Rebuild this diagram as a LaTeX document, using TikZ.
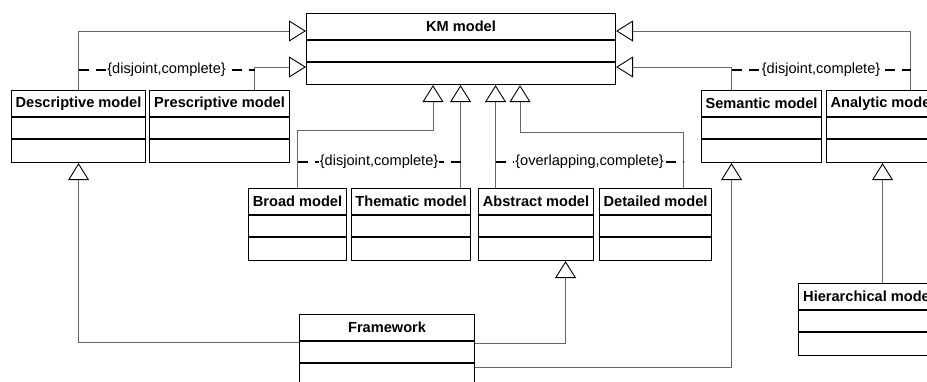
\documentclass[tikz,border=0pt]{standalone}
\usepackage{fontspec}
\setmainfont{Liberation Sans}
\usetikzlibrary{arrows.meta}
\newcommand\umlclass[6]{%
  \node[box,minimum width=#4pt,minimum height=#5pt] (#1) at (#2,#3) {};
  \node[ttl] (#1-t) at ([yshift=-13.5pt]#1.north) {#6};
  \draw[boxline] ([yshift=-27pt]#1.north west) -- ([yshift=-27pt]#1.north east);
  \draw[boxline] ([yshift=-49pt]#1.north west) -- ([yshift=-49pt]#1.north east);
}
\begin{document}
\begin{tikzpicture}[x=1pt,y=-1pt,
  box/.style={draw=black,line width=1.1pt,fill=white,inner sep=0pt,anchor=north west},
  boxline/.style={draw=black,line width=1.1pt},
  ttl/.style={font=\bfseries\fontsize{14.6}{17}\selectfont,inner sep=0pt,anchor=center},
  gen/.style={draw=black!60,line width=0.9pt,-{Triangle[open,length=17pt,width=21pt,line width=0.9pt,color=black]}},
  cons/.style={draw=black,line width=2pt,dash pattern=on 10pt off 7pt},
  lbl/.style={fill=white,inner sep=1pt,font=\fontsize{14.6}{17}\selectfont}]
\useasboundingbox (0,0) rectangle (927,381);
\clip (0,0) rectangle (927,381);
\fill[white] (0,0) rectangle (927,381);
% classes
\umlclass{km}{306}{13}{309}{71}{KM model}
\umlclass{desc}{11}{90}{134}{72}{Descriptive model}
\umlclass{pres}{149}{90}{140}{72}{Prescriptive model}
\umlclass{sem}{701}{90}{120}{72}{Semantic model}
\umlclass{ana}{826}{90}{112}{72}{Analytic model}
\umlclass{broad}{248}{188}{98}{72}{Broad model}
\umlclass{them}{351}{188}{119}{72}{Thematic model}
\umlclass{abs}{478}{188}{115}{72}{Abstract model}
\umlclass{det}{599}{188}{112}{72}{Detailed model}
\umlclass{fw}{299}{314}{175}{72}{Framework}
\umlclass{hier}{798}{283}{140}{72}{Hierarchical model}
% generalizations to KM model
\draw[gen] (desc.north) |- ([yshift=-18pt]km.north west);
\draw[gen] ([xshift=35pt]pres.north) |- ([yshift=-54pt]km.north west);
\draw[gen] ([xshift=-30pt]sem.north) |- ([yshift=-54pt]km.north east);
\draw[gen] ([xshift=28pt]ana.north) |- ([yshift=-18pt]km.north east);
\draw[gen] (broad.north) -- ++(0,-58) -| ([xshift=127pt]km.south west);
\draw[gen] ([xshift=49.5pt]them.north) -- ([xshift=49.5pt]them.north |- km.south);
\draw[gen] ([xshift=-40.5pt]abs.north) -- ([xshift=-40.5pt]abs.north |- km.south);
\draw[gen] ([xshift=28pt]det.north) -- ++(0,-56) -| ([xshift=214pt]km.south west);
% generalization sets
\draw[cons] ([yshift=20pt]desc.north) -- node[lbl]{\{disjoint,complete\}} ([xshift=35pt,yshift=20pt]pres.north);
\draw[cons] ([xshift=-30pt,yshift=20pt]sem.north) -- node[lbl]{\{disjoint,complete\}} ([xshift=28pt,yshift=20pt]ana.north);
\draw[cons] ([yshift=26pt]broad.north) -- node[lbl]{\{disjoint,complete\}} ([xshift=49.5pt,yshift=26pt]them.north);
\draw[cons] ([xshift=-40.5pt,yshift=26pt]abs.north) -- node[lbl]{\{overlapping,complete\}} ([xshift=28pt,yshift=26pt]det.north);
% framework
\draw[gen] ([yshift=-28pt]fw.north west) -| (desc.south);
\draw[gen] ([yshift=-29pt]fw.north east) -| ([xshift=29.5pt]abs.south);
\draw[gen] ([yshift=-53pt]fw.north east) -| ([xshift=-30pt]sem.south);
\draw[gen] (ana.south |- hier.north) -- (ana.south);
\end{tikzpicture}
\end{document}
